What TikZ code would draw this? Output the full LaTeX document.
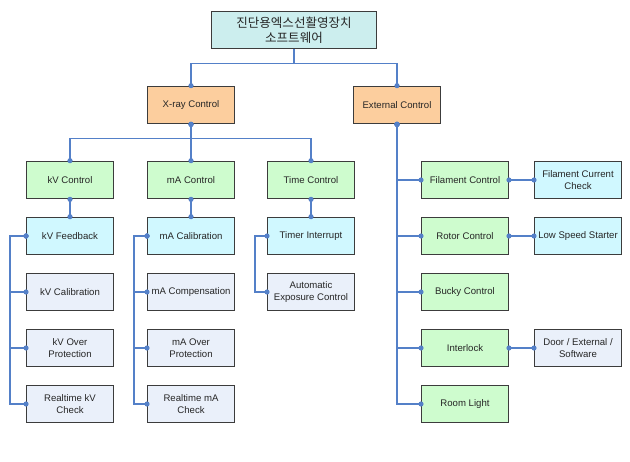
\documentclass[tikz,border=0pt]{standalone}
\usepackage{fontspec}
\setmainfont{Liberation Sans}
\newfontfamily\kofont{Noto Sans CJK KR}
\usetikzlibrary{arrows.meta}

\definecolor{lnblue}{RGB}{84,128,200}
\definecolor{boxline}{RGB}{60,60,60}
\definecolor{titlefill}{RGB}{204,238,238}
\definecolor{orangefill}{RGB}{252,206,158}
\definecolor{greenfill}{RGB}{206,252,206}
\definecolor{cyanfill}{RGB}{208,248,255}
\definecolor{greyfill}{RGB}{234,240,250}

\begin{document}
\begin{tikzpicture}[x=0.75pt, y=-0.75pt,
    box/.style={draw=boxline, line width=1pt, minimum width=65pt, minimum height=28pt,
                inner sep=1pt, align=center, text=black!85,
                font=\fontsize{7.2}{9}\selectfont},
    titlebox/.style={box, fill=titlefill, minimum width=124pt,
                font=\kofont\fontsize{9.4}{11.5}\selectfont},
    main/.style={box, fill=orangefill},
    ctrl/.style={box, fill=greenfill},
    sub/.style={box, fill=cyanfill},
    leaf/.style={box, fill=greyfill},
    link/.style={draw=lnblue, line width=0.8pt,
                {Circle[length=3.8pt, sep=-1.9pt]}-{Circle[length=3.8pt, sep=-1.9pt]}},
    tlink/.style={link, -{Circle[length=3.8pt, sep=-1.9pt]}}]

    \useasboundingbox (0,0) rectangle (630,461);

    % --- Top ---
    \node[titlebox] (root) at (294,30) {진단용엑스선활영장치\\소프트웨어};
    \node[main] (xray) at (191,105) {X-ray Control};
    \node[main] (ext) at (397,105) {External Control};
    \foreach \n in {xray, ext} {
        \draw[tlink] (root.south) -- ++(0,14) -| (\n.north);
    }

    % --- X-ray Control ---
    \node[ctrl] (kvc) at (70,180) {kV Control};
    \node[ctrl] (mac) at (191,180) {mA Control};
    \node[ctrl] (tc) at (311,180) {Time Control};
    \foreach \n in {kvc, mac, tc} {
        \draw[link] (xray.south) -- ++(0,14) -| (\n.north);
    }

    % kV
    \node[sub] (kvfb) at (70,236) {kV Feedback};
    \node[leaf] (kvcal) at (70,292) {kV Calibration};
    \node[leaf] (kvop) at (70,348) {kV Over\\Protection};
    \node[leaf] (kvrt) at (70,404) {Realtime kV\\Check};
    \draw[link] (kvc) -- (kvfb);
    \foreach \n in {kvcal, kvop, kvrt} {
        \draw[link] (kvfb.west) -- ++(-16,0) |- (\n.west);
    }

    % mA
    \node[sub] (macal) at (191,236) {mA Calibration};
    \node[leaf] (macomp) at (191,292) {mA Compensation};
    \node[leaf] (maop) at (191,348) {mA Over\\Protection};
    \node[leaf] (mart) at (191,404) {Realtime mA\\Check};
    \draw[link] (mac) -- (macal);
    \foreach \n in {macomp, maop, mart} {
        \draw[link] (macal.west) -- ++(-13,0) |- (\n.west);
    }

    % Time
    \node[sub] (ti) at (311,236) {Timer Interrupt};
    \node[leaf] (aec) at (311,292) {Automatic\\Exposure Control};
    \draw[link] (tc) -- (ti);
    \draw[link] (ti.west) -- ++(-12,0) |- (aec.west);

    % --- External Control ---
    \node[ctrl] (fil) at (465,180) {Filament Control};
    \node[ctrl] (rot) at (465,236) {Rotor Control};
    \node[ctrl] (bucky) at (465,292) {Bucky Control};
    \node[ctrl] (intl) at (465,348) {Interlock};
    \node[ctrl] (room) at (465,404) {Room Light};
    \foreach \n in {fil, rot, bucky, intl, room} {
        \draw[link] (ext.south) |- (\n.west);
    }

    \node[sub] (fcc) at (578,180) {Filament Current\\Check};
    \node[sub] (lss) at (578,236) {Low Speed Starter};
    \node[leaf] (door) at (578,348) {Door / External /\\Software};
    \draw[link] (fil) -- (fcc);
    \draw[link] (rot) -- (lss);
    \draw[link] (intl) -- (door);
\end{tikzpicture}
\end{document}
